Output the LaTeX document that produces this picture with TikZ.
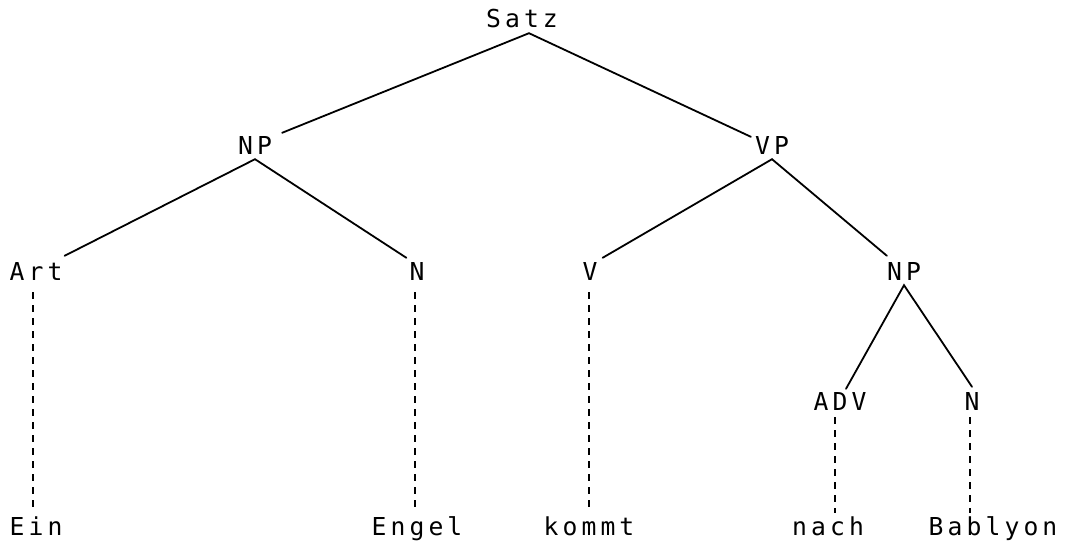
\documentclass[tikz,border=0pt]{standalone}
\usepackage{fontspec}
\setmonofont[LetterSpace=16.6]{DejaVu Sans Mono}
\usetikzlibrary{calc}
\begin{document}
\begin{tikzpicture}[x=1pt,y=-1pt,
  lbl/.style={inner sep=0pt,anchor=base,text height=18pt,text depth=0pt,font=\fontsize{24.7}{30}\selectfont\ttfamily},
  edge/.style={line width=1.8pt,line cap=round},
  dots/.style={line width=1.6pt,dash pattern=on 7pt off 6pt}]
\useasboundingbox (0,0) rectangle (1066,548);
\node[lbl] (satz) at (522,28) {Satz};
\node[lbl] (np) at (255,155) {NP};
\node[lbl] (vp) at (772,155) {VP};
\node[lbl] (art) at (36,280) {Art};
\node[lbl] (n1) at (417,280) {N};
\node[lbl] (v) at (590,280) {V};
\node[lbl] (np2) at (904,280) {NP};
\node[lbl] (adv) at (840,410) {ADV};
\node[lbl] (n2) at (972,410) {N};
\node[lbl] (ein) at (36,535) {Ein};
\node[lbl] (engel) at (417,535) {Engel};
\node[lbl] (kommt) at (589,535) {kommt};
\node[lbl] (nach) at (828,535) {nach};
\node[lbl] (bab) at (993,535) {Bablyon};
\draw[edge] ([shift={(10pt,4pt)}]np.north east) -- ([shift={(7pt,-5pt)}]satz.south) -- ([shift={(-4pt,0pt)}]vp.north west);
\draw[edge] ([shift={(2pt,6pt)}]art.north east) -- ([shift={(0pt,-4pt)}]np.south) -- ([shift={(-3pt,4pt)}]n1.north west);
\draw[edge] ([shift={(5pt,4pt)}]v.north east) -- ([shift={(0pt,-4pt)}]vp.south) -- ([shift={(0pt,6pt)}]np2.north west);
\draw[edge] ([shift={(6pt,3pt)}]adv.north) -- ([shift={(0pt,-5pt)}]np2.south) -- ([shift={(0pt,5pt)}]n2.north);
\draw[dots] ($(art.south)+(-3pt,-12pt)$) -- ($(art.south |- ein.north)+(-3pt,4pt)$);
\draw[dots] ($(n1.south)+(-2pt,-12pt)$) -- ($(n1.south |- engel.north)+(-2pt,4pt)$);
\draw[dots] ($(v.south)+(-1pt,-12pt)$) -- ($(v.south |- kommt.north)+(-1pt,4pt)$);
\draw[dots] ($(adv.south)+(-5pt,-7pt)$) -- ($(adv.south |- nach.north)+(-5pt,4pt)$);
\draw[dots] ($(n2.south)+(-2pt,-7pt)$) -- ($(n2.south |- bab.north)+(-2pt,4pt)$);
\end{tikzpicture}
\end{document}
